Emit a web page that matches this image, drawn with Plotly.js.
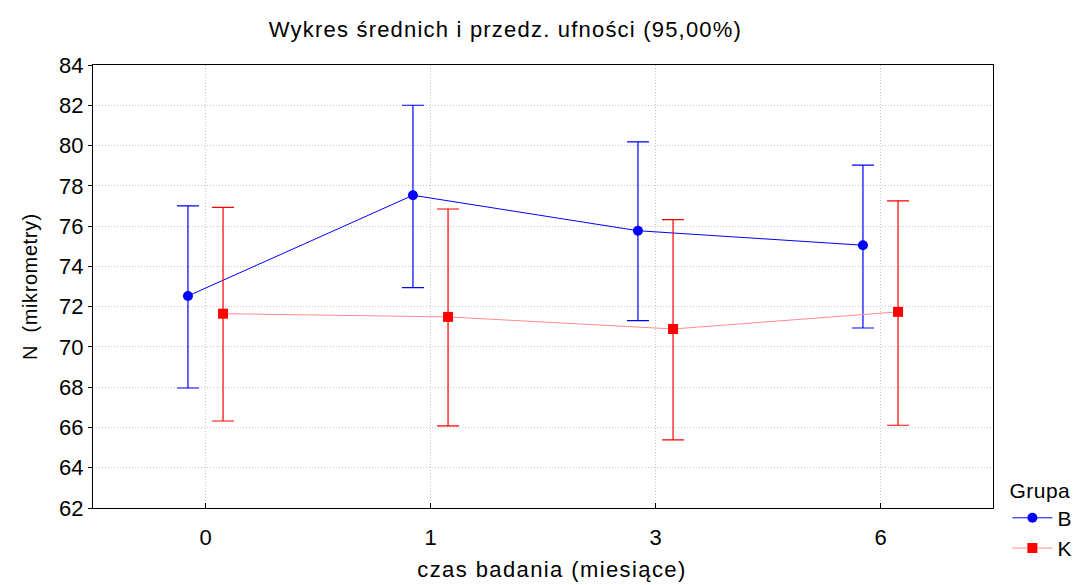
<!DOCTYPE html>
<html><head><meta charset="utf-8">
<script src="https://cdn.plot.ly/plotly-3.0.1.min.js"></script>
<style>
body{margin:0;background:#fff}#chart{width:1080px;height:585px}
#chart .gtitle{letter-spacing:1.2px}
#chart .xtitle{letter-spacing:1.4px; transform: translateX(9px)}
#chart .ytitle{letter-spacing:0.6px}
#chart .legendtitletext{letter-spacing:0.5px}
</style>
</head><body><div id="chart"></div>
<script>
const categories = ['0', '1', '3', '6'];
const meanB = [72.53, 77.53, 75.77, 75.05];
const upperB = [77.0, 82.0, 80.18, 79.03];
const lowerB = [67.96, 72.94, 71.31, 70.94];
const meanK = [71.65, 71.49, 70.89, 71.74];
const upperK = [76.93, 76.85, 76.32, 77.25];
const lowerK = [66.32, 66.08, 65.38, 66.11];

const idx = categories.map((c, i) => i);
const off = 0.078;
function errUp(m, u) { return m.map((v, i) => u[i] - v); }
function errDn(m, l) { return m.map((v, i) => v - l[i]); }

const traceB = {
  name: 'B', type: 'scatter', mode: 'lines+markers',
  x: idx.map(i => i - off), y: meanB,
  line: {color: '#0000ff', width: 1},
  marker: {color: '#0000ff', symbol: 'circle', size: 10},
  error_y: {type: 'data', symmetric: false, array: errUp(meanB, upperB), arrayminus: errDn(meanB, lowerB),
            color: '#0000ff', thickness: 1.2, width: 11}
};
const traceK = {
  name: 'K', type: 'scatter', mode: 'lines+markers',
  x: idx.map(i => i + off), y: meanK,
  line: {color: '#ff8c8c', width: 1},
  marker: {color: '#ff0000', symbol: 'square', size: 10},
  error_y: {type: 'data', symmetric: false, array: errUp(meanK, upperK), arrayminus: errDn(meanK, lowerK),
            color: '#ff0000', thickness: 1.2, width: 11}
};

const font = 'Liberation Sans, Arial, sans-serif';
const layout = {
  width: 1080, height: 585,
  margin: {l: 93, r: 87, t: 65, b: 77, autoexpand: false},
  paper_bgcolor: '#fff', plot_bgcolor: '#fff',
  font: {family: font, color: '#000', size: 20},
  title: {text: 'Wykres średnich i przedz. ufności (95,00%)', font: {family: font, size: 22, color: '#000'},
          x: 0.468, xanchor: 'center', y: 0.95, yanchor: 'middle'},
  xaxis: {
    range: [-0.5, 3.5], tickvals: idx, ticktext: categories,
    showgrid: true, gridcolor: '#c4c4c4', griddash: '1px,2px', gridwidth: 1,
    showline: true, linecolor: '#000', linewidth: 1, mirror: true,
    ticks: 'inside', ticklen: 5, tickcolor: '#000',
    ticklabelstandoff: 10,
    tickfont: {size: 22, family: font}, zeroline: false,
    title: {text: 'czas badania (miesiące)', font: {size: 22, family: font}, standoff: 12}
  },
  yaxis: {
    range: [62, 84], dtick: 2, tick0: 62,
    showgrid: true, gridcolor: '#c4c4c4', griddash: '1px,2px', gridwidth: 1,
    showline: true, linecolor: '#000', linewidth: 1, mirror: true,
    ticks: 'outside', ticklen: 4, tickcolor: '#000',
    tickfont: {size: 22, family: font}, zeroline: false,
    title: {text: 'N  (mikrometry)', font: {size: 20, family: font}, standoff: 16}
  },
  showlegend: true,
  legend: {
    x: 1.016, xanchor: 'left', y: 0.085, yanchor: 'top',
    title: {text: 'Grupa', font: {size: 21, family: font}},
    font: {size: 21, family: font}, bgcolor: 'rgba(0,0,0,0)',
    tracegroupgap: 0, itemwidth: 40
  }
};
Plotly.newPlot('chart', [traceB, traceK], layout, {displayModeBar: false});
</script></body></html>
